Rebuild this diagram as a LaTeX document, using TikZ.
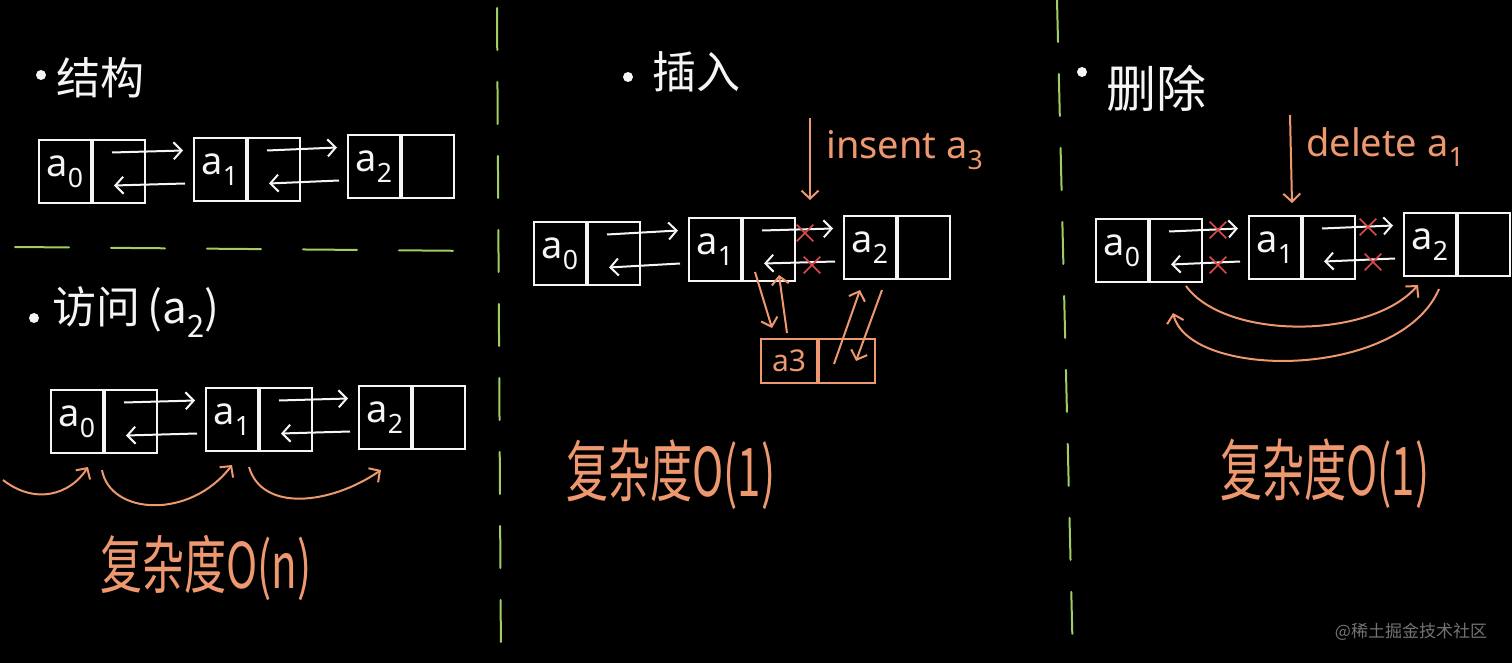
\documentclass[tikz,border=0pt]{standalone}
\usepackage{graphicx}
\usepackage{fontspec}
\setmainfont{Noto Sans}
\newfontfamily\cjk{Noto Sans CJK SC}
\usetikzlibrary{arrows.meta,shapes.misc}
\definecolor{chalk}{RGB}{245,245,245}
\definecolor{peach}{RGB}{238,152,112}
\definecolor{xred}{RGB}{225,72,72}
\definecolor{lime}{RGB}{160,205,100}
\definecolor{wm}{RGB}{115,115,115}

\newcommand{\av}[1]{a\textsubscript{#1}}
\newcommand{\pairnode}[4]{%
  \node[cell, anchor=north west] (#1l) at (#2,#3) {\av{#4}};
  \node[cell, anchor=west] (#1r) at (#1l.east) {};}
\newcommand{\links}[2]{%
  \draw[wline] ([xshift=20pt,yshift=19pt]#1r.west) -- ([xshift=-10pt,yshift=19pt]#2l.west);
  \draw[wline] ([xshift=-8pt,yshift=-14pt]#2l.west) -- ([xshift=22pt,yshift=-14pt]#1r.west);}

\tikzset{
  cell/.style={draw=chalk, line width=2pt, minimum width=52pt, minimum height=63pt,
    inner sep=0pt, text=chalk, font=\fontsize{38}{38}\selectfont},
  ocell/.style={draw=peach, line width=2pt, minimum width=56pt, minimum height=44pt,
    inner sep=0pt, text=peach, font=\fontsize{30}{30}\selectfont},
  wline/.style={draw=chalk, line width=2pt, -{Straight Barb[length=8pt,width=17pt]}},
  oline/.style={draw=peach, line width=2pt, -{Straight Barb[length=8pt,width=17pt]}},
  xmark/.style={cross out, draw=xred, line width=1.7pt, minimum size=15pt, inner sep=0pt},
  greendash/.style={draw=lime, line width=2pt, dash pattern=on 42pt off 32pt, line cap=round},
  heading/.style={text=chalk, font=\cjk\fontsize{44}{44}\selectfont, inner sep=0pt, anchor=west},
  bullet/.style={circle, fill=chalk, minimum size=10pt, inner sep=0pt},
  cplx/.style={text=peach, font=\cjk\fontsize{42}{42}\selectfont, inner sep=0pt},
  olabel/.style={text=peach, font=\fontsize{38}{38}\selectfont, inner sep=0pt, anchor=west},
}

\begin{document}
\begin{tikzpicture}[x=1pt,y=-1pt]
\fill[black] (0,0) rectangle (1512,663);
\useasboundingbox (0,0) rectangle (1512,663);

% separators
\coordinate (hs) at (15,247); \coordinate (he) at (480,251);
\draw[greendash, dash pattern=on 54pt off 42pt] (hs) -- (he);
\coordinate (v1s) at (497,8); \coordinate (v1e) at (501,663);
\draw[greendash] (v1s) -- (v1e);
\coordinate (v2s) at (1057,0); \coordinate (v2e) at (1073,663);
\draw[greendash] (v2s) -- (v2e);

% ===== left: structure =====
\node[bullet] (b1) at (41,75) {};
\node[heading] (h1) at (56,78) {结构};
\pairnode{S0}{38}{139}{0}
\pairnode{S1}{193}{137}{1}
\pairnode{S2}{347}{134}{2}
\links{S0}{S1}
\links{S1}{S2}

% ===== left: access =====
\node[bullet] (b2) at (34,318) {};
\node[heading] (h2) at (52,312) {访问\,(\av{2})};
\pairnode{V0}{50}{389}{0}
\pairnode{V1}{205}{387}{1}
\pairnode{V2}{358}{385}{2}
\links{V0}{V1}
\links{V1}{V2}
\coordinate (vstart) at (3,480);
\draw[oline] (vstart) .. controls (35,505) and (70,495) .. ([xshift=11pt,yshift=-13pt]V0l.south);
\draw[oline] ([xshift=-2pt,yshift=-16pt]V0r.south west) .. controls (110,515) and (190,520) .. ([yshift=-13pt]V1l.south);
\draw[oline] ([xshift=-10pt,yshift=-15pt]V1r.south west) .. controls (262,512) and (330,505) .. ([xshift=-4pt,yshift=-20pt]V2l.south);
\node[cplx] (c1) at (206,568) {\scalebox{1}[1.5]{复杂度O(n)}};

% ===== middle: insert =====
\node[bullet] (b3) at (628,77) {};
\node[heading] (h3) at (652,72) {插入};
\pairnode{M0}{533}{221}{0}
\pairnode{M1}{688}{217}{1}
\pairnode{M2}{843}{215}{2}
\links{M0}{M1}
\links{M1}{M2}
\node[xmark] (mx1) at (805,233) {};
\node[xmark] (mx2) at (812,265) {};
\coordinate (insA) at (810,118); \coordinate (insB) at (810,200);
\draw[oline] (insA) -- (insB);
\node[olabel] (ins) at (826,150) {insent \av{3}};
\node[ocell, anchor=north west] (M3l) at (760,338) {a3};
\node[ocell, anchor=west] (M3r) at (M3l.east) {};
\draw[oline] ([xshift=13pt,yshift=10pt]M1r.south west) -- ([xshift=12pt,yshift=10pt]M3l.north west);
\draw[oline] ([xshift=27pt,yshift=5pt]M3l.north west) -- ([xshift=37pt,yshift=7pt]M1r.south west);
\draw[oline] ([xshift=16pt,yshift=-3pt]M3r.west) -- ([xshift=17pt,yshift=-10pt]M2l.south west);
\draw[oline] ([xshift=39pt,yshift=-10pt]M2l.south west) -- ([xshift=38pt]M3r.west);
\node[cplx] (c2) at (671,475) {\scalebox{1}[1.6]{复杂度O(1)}};

% ===== right: delete =====
\node[bullet] (b4) at (1082,72) {};
\node[heading, font=\cjk\fontsize{50}{50}\selectfont] (h4) at (1106,88) {删除};
\pairnode{R0}{1095}{218}{0}
\pairnode{R1}{1248}{215}{1}
\pairnode{R2}{1403}{212}{2}
\links{R0}{R1}
\links{R1}{R2}
\node[xmark] (rx1) at (1218,230) {};
\node[xmark] (rx2) at (1218,265) {};
\node[xmark] (rx3) at (1368,227) {};
\node[xmark] (rx4) at (1373,262) {};
\coordinate (delA) at (1290,115); \coordinate (delB) at (1292,203);
\draw[oline] (delA) -- (delB);
\node[olabel] (del) at (1306,147) {delete \av{1}};
\draw[oline] ([xshift=10pt,yshift=-3pt]R0r.south) .. controls (1225,340) and (1370,340) .. ([xshift=-12pt,yshift=-8pt]R2l.south);
\draw[oline] ([xshift=9pt,yshift=-12pt]R2l.south) .. controls (1400,380) and (1190,380) .. ([xshift=-3pt,yshift=-30pt]R0r.south);
\node[cplx] (c3) at (1325,474) {\scalebox{1}[1.6]{复杂度O(1)}};

% watermark
\node[text=wm, font=\cjk\fontsize{17}{17}\selectfont, inner sep=0pt] (wmk) at (1411,632) {@稀土掘金技术社区};
\end{tikzpicture}
\end{document}
